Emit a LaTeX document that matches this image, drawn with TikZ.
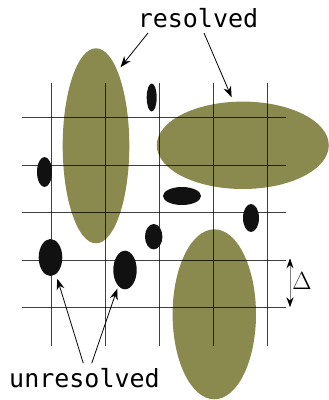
\documentclass[tikz,border=0pt]{standalone}
\usepackage{fontspec}
\newfontfamily\labelmono{DejaVu Sans Mono}
\usetikzlibrary{shapes.geometric,arrows.meta}
\definecolor{blobolive}{RGB}{138,137,78}
\definecolor{speckblack}{RGB}{17,17,17}
\tikzset{
  blob/.style={ellipse,fill=blobolive,inner sep=0pt,outer sep=0pt},
  speck/.style={ellipse,fill=speckblack,inner sep=0pt,outer sep=0pt},
  gridline/.style={black,opacity=0.75,line width=1pt},
  pointer/.style={-{Stealth[length=11pt,width=8pt]},line width=0.8pt,shorten >=5pt},
  tag/.style={font=\labelmono\fontsize{25}{30}\selectfont,inner sep=0pt}
}
\begin{document}
\begin{tikzpicture}[x=1pt,y=-1pt]
\useasboundingbox (0,0) rectangle (329,400);
% large (resolved) structures
\node[blob,minimum width=66.6pt,minimum height=195pt] (tall) at (96,145.8) {};
\node[blob,minimum width=172pt,minimum height=87.4pt] (flat) at (242.8,145.3) {};
\node[blob,minimum width=83.4pt,minimum height=170pt] (low) at (214.3,314.3) {};
% grid of spacing Delta
\foreach \x in {51,105.3,159.3,213.3,267.3}
  \draw[gridline] (\x,83) -- (\x,346);
\foreach \y in {117.7,165,212.7,260,307.3}
  \draw[gridline] (22,\y) -- (285.7,\y);
% small (unresolved) structures
\node[speck,minimum width=10pt,minimum height=28pt] (s1) at (151.7,97.5) {};
\node[speck,minimum width=15pt,minimum height=30pt] (s2) at (44.5,172) {};
\node[speck,minimum width=38pt,minimum height=18pt] (s3) at (182,196) {};
\node[speck,minimum width=16pt,minimum height=28pt] (s4) at (251,218) {};
\node[speck,minimum width=17.4pt,minimum height=25.4pt] (s5) at (153.7,236.7) {};
\node[speck,minimum width=23.6pt,minimum height=37pt] (s6) at (50.5,257.5) {};
\node[speck,minimum width=23.4pt,minimum height=38.6pt] (s7) at (125,270) {};
% labels
\node[tag] (res) at (198,18.5) {resolved};
\node[tag] (unres) at (84.5,378.5) {unresolved};
\coordinate (r1) at (148,33);
\coordinate (r2) at (204,33);
\coordinate (u1) at (83.3,363.3);
\coordinate (u2) at (91.7,363.3);
\draw[pointer] (r1) -- (tall.74);
\draw[pointer] (r2) -- (flat.102);
\draw[pointer] (u1) -- (s6.-72);
\draw[pointer,shorten >=3pt] (u2) -- (s7.-113);
% grid spacing
\coordinate (d1) at (290,258.3);
\coordinate (d2) at (290,307.3);
\draw[gray,line width=0.9pt,{Stealth[black,length=10pt,width=7pt]}-{Stealth[black,length=10pt,width=7pt]}] (d1) -- (d2);
\node[font=\fontsize{23}{27}\selectfont,inner sep=0pt] (dlt) at (302,281) {$\Delta$};
\end{tikzpicture}
\end{document}
